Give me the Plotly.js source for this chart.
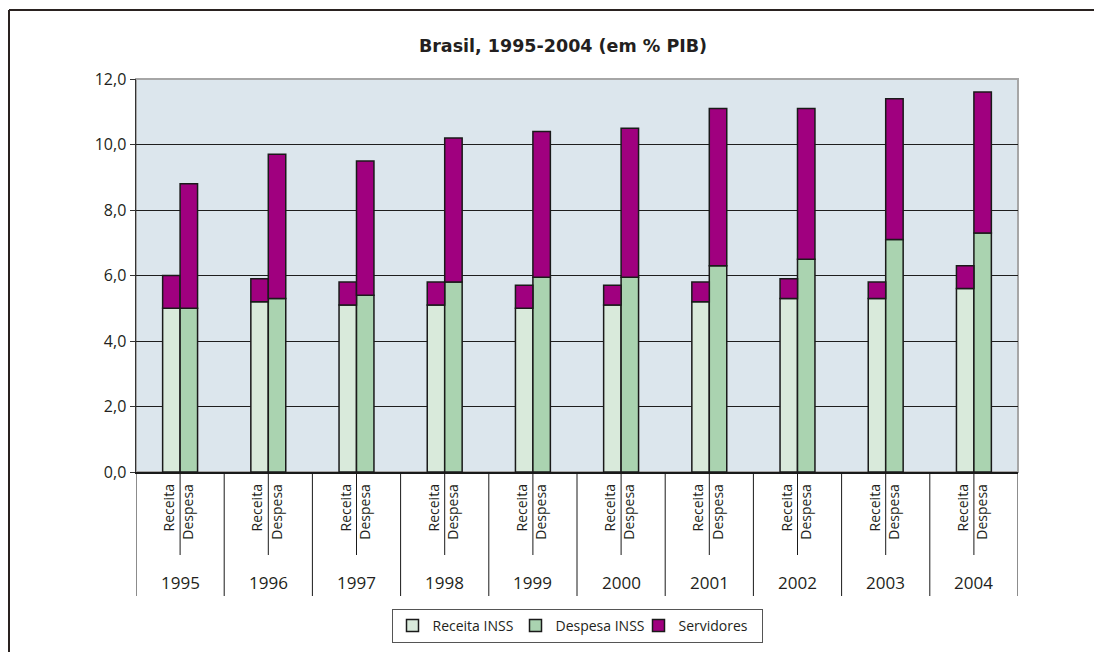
<!DOCTYPE html>
<html>
<head>
<meta charset="utf-8">
<script src="https://cdn.plot.ly/plotly-3.0.1.min.js"></script>
<style>
  html, body { margin: 0; padding: 0; background: #ffffff; }
  #chart { width: 1094px; height: 652px; }
</style>
</head>
<body>
<div id="chart"></div>
<script>
// ---- Data (em % PIB) ----
const years = ['1995', '1996', '1997', '1998', '1999', '2000', '2001', '2002', '2003', '2004'];
const subLabels = ['Receita', 'Despesa'];
const seriesNames = ['Receita INSS', 'Despesa INSS', 'Servidores'];
const receitaINSS = [5.0, 5.2, 5.1, 5.1, 5.0, 5.1, 5.2, 5.3, 5.3, 5.6];
const servidoresReceita = [1.0, 0.7, 0.7, 0.7, 0.7, 0.6, 0.6, 0.6, 0.5, 0.7];
const despesaINSS = [5.0, 5.3, 5.4, 5.8, 5.95, 5.95, 6.3, 6.5, 7.1, 7.3];
const servidoresDespesa = [3.8, 4.4, 4.1, 4.4, 4.45, 4.55, 4.8, 4.6, 4.3, 4.3];
const yTicks = [0, 2, 4, 6, 8, 10, 12];

// ---- Layout helpers ----
const W = 0.198; // bar width in group units
const receitaX = years.map((_, i) => i + 0.5 - W / 2);
const despesaX = years.map((_, i) => i + 0.5 + W / 2);

const FONT = '"Open Sans", "DejaVu Sans", sans-serif';
const TITLE_FONT = '"DejaVu Sans", "Open Sans", sans-serif';
const TXT = '#231f20';
const lineCol = '#1a1a1a';

const traces = [
  {
    type: 'bar', name: seriesNames[0], x: receitaX, y: receitaINSS, width: W,
    marker: { color: '#d9eadb', line: { color: lineCol, width: 1.5 } }
  },
  {
    type: 'bar', name: seriesNames[1], x: despesaX, y: despesaINSS, width: W,
    marker: { color: '#aad3b0', line: { color: lineCol, width: 1.5 } }
  },
  {
    type: 'bar', name: seriesNames[2],
    x: receitaX.concat(despesaX),
    y: servidoresReceita.concat(servidoresDespesa),
    base: receitaINSS.concat(despesaINSS),
    width: W,
    marker: { color: '#a0007f', line: { color: lineCol, width: 1.5 } }
  }
];

const tickvals = [], ticktext = [];
years.forEach((_, i) => {
  tickvals.push(receitaX[i] - 0.02, despesaX[i]);
  ticktext.push(subLabels[0], subLabels[1]);
});

const plotTop = 79, plotBottom = 472, plotLeft = 136, plotRight = 1018;
const plotH = plotBottom - plotTop, plotW = plotRight - plotLeft;
const py = (pix) => (plotBottom - pix) / plotH; // pixel y -> paper y
const px = (pix) => (pix - plotLeft) / plotW;   // pixel x -> paper x

const shapes = [];
// plot area top/right border (gray)
shapes.push({ type: 'rect', xref: 'paper', yref: 'paper', x0: 0, x1: 1, y0: 0, y1: 1,
  line: { color: '#a6a6a6', width: 2 }, layer: 'below' });
// group dividers
for (let i = 0; i <= years.length; i++) {
  shapes.push({ type: 'line', xref: 'x', yref: 'paper', x0: i, x1: i, y0: 0, y1: py(596),
    line: { color: lineCol, width: 1 } });
}
// inner dividers between Receita / Despesa
years.forEach((_, i) => {
  shapes.push({ type: 'line', xref: 'x', yref: 'paper', x0: i + 0.5, x1: i + 0.5, y0: 0, y1: py(555),
    line: { color: lineCol, width: 1 } });
});
// outer frame (left and top edges)
shapes.push({ type: 'line', xref: 'paper', yref: 'paper', x0: px(9), x1: px(9), y0: py(10), y1: py(700),
  line: { color: '#2a2220', width: 2 } });
shapes.push({ type: 'line', xref: 'paper', yref: 'paper', x0: px(9), x1: px(1120), y0: py(10), y1: py(10),
  line: { color: '#2a2220', width: 2 } });

const annotations = years.map((yr, i) => ({
  x: i + 0.5, xref: 'x', y: py(582), yref: 'paper', text: yr, showarrow: false,
  xanchor: 'center', yanchor: 'middle', font: { family: FONT, size: 17, color: TXT }
}));

const layout = {
  width: 1094, height: 652,
  margin: { l: plotLeft, r: 1094 - plotRight, t: plotTop, b: 652 - plotBottom, pad: 0, autoexpand: false },
  paper_bgcolor: '#ffffff',
  plot_bgcolor: '#dce6ed',
  separators: ',.',
  barmode: 'overlay',
  showlegend: true,
  title: {
    text: '<b>Brasil, 1995-2004 (em % PIB)</b>',
    x: 563 / 1094, xanchor: 'center', xref: 'container',
    y: 1 - 46 / 652, yanchor: 'middle', yref: 'container',
    font: { family: TITLE_FONT, size: 17.5, color: TXT }
  },
  xaxis: {
    type: 'linear', range: [0, years.length], fixedrange: true,
    showgrid: false, zeroline: false,
    showline: true, linecolor: lineCol, linewidth: 1.5,
    tickmode: 'array', tickvals: tickvals, ticktext: ticktext,
    tickangle: -90, ticks: '', ticklabelstandoff: 5,
    tickfont: { family: FONT, size: 14, color: TXT }
  },
  yaxis: {
    range: [0, 12], tickmode: 'array', tickvals: yTicks, tickformat: '.1f',
    showgrid: true, gridcolor: '#1e1e1e', gridwidth: 1,
    zeroline: false, showline: true, linecolor: '#333333', linewidth: 1.5,
    ticks: 'outside', ticklen: 5, tickcolor: '#333333', tickwidth: 1,
    tickfont: { family: FONT, size: 16, color: TXT }
  },
  legend: {
    orientation: 'h', x: 0.5, xanchor: 'center', y: py(609), yanchor: 'top',
    bgcolor: '#ffffff', bordercolor: '#555555', borderwidth: 1,
    font: { family: FONT, size: 14, color: TXT },
    traceorder: 'normal', itemwidth: 30, entrywidth: 78, entrywidthmode: 'pixels'
  },
  shapes: shapes,
  annotations: annotations
};

Plotly.newPlot('chart', traces, layout, { staticPlot: true, displayModeBar: false });
</script>
</body>
</html>
